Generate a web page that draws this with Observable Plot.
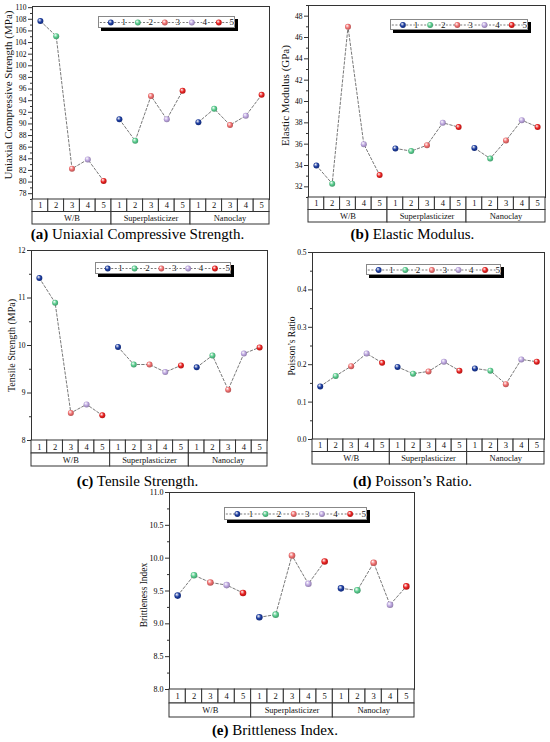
<!DOCTYPE html>
<html><head><meta charset="utf-8">
<script src="https://cdn.jsdelivr.net/npm/d3@7"></script>
<script src="https://cdn.jsdelivr.net/npm/@observablehq/plot@0.6"></script>
<style>
body{margin:0;background:#fff}
#root{position:relative;width:550px;height:742px;overflow:hidden;font-family:"Liberation Serif",serif;background:#fff}
#root > svg{position:absolute;overflow:visible;background:transparent}
#root svg, #root svg text{font-family:"Liberation Serif","Times New Roman",serif !important}
.cap{position:absolute;text-align:center;font-size:15px;line-height:18px;color:#000;white-space:nowrap}
.leg{position:absolute;background:#fff;border:1px solid #888;box-shadow:3px 3px 0 #000;box-sizing:border-box}
.leg svg{display:block;overflow:visible}
</style></head><body><div id="root"></div>
<script>
// ---------- data ----------
const groups = ["W/B", "Superplasticizer", "Nanoclay"];
const levels = ["1", "2", "3", "4", "5"];
const levelColors = ["#1b3b9e", "#57cb8c", "#ef6d6d", "#bba4de", "#e8201f"];

const ucsWB = [107.7, 105.1, 82.3, 83.9, 80.2];
const ucsSP = [90.8, 87.1, 94.8, 90.8, 95.7];
const ucsNC = [90.3, 92.6, 89.8, 91.4, 95.0];
const ucsTicks = [78, 80, 82, 84, 86, 88, 90, 92, 94, 96, 98, 100, 102, 104, 106, 108, 110];
const ucsMinor = [77, 79, 81, 83, 85, 87, 89, 91, 93, 95, 97, 99, 101, 103, 105, 107, 109];

const emWB = [34.0, 32.3, 47.0, 36.0, 33.1];
const emSP = [35.6, 35.35, 35.9, 38.0, 37.6];
const emNC = [35.65, 34.65, 36.35, 38.25, 37.6];
const emTicks = [32, 34, 36, 38, 40, 42, 44, 46, 48];
const emMinor = [31, 33, 35, 37, 39, 41, 43, 45, 47, 49];

const tsWB = [11.42, 10.90, 8.58, 8.76, 8.53];
const tsSP = [9.97, 9.60, 9.60, 9.44, 9.58];
const tsNC = [9.54, 9.79, 9.07, 9.83, 9.96];
const tsTicks = [8, 9, 10, 11, 12];
const tsMinor = [8.5, 9.5, 10.5, 11.5];

const prWB = [0.142, 0.170, 0.196, 0.230, 0.205];
const prSP = [0.194, 0.176, 0.182, 0.208, 0.184];
const prNC = [0.190, 0.184, 0.148, 0.214, 0.208];
const prTicks = [0, 0.1, 0.2, 0.3, 0.4, 0.5];
const prMinor = [0.05, 0.15, 0.25, 0.35, 0.45];

const biWB = [9.43, 9.74, 9.63, 9.59, 9.47];
const biSP = [9.10, 9.14, 10.04, 9.61, 9.95];
const biNC = [9.54, 9.51, 9.93, 9.29, 9.57];
const biTicks = [8.0, 8.5, 9.0, 9.5, 10.0, 10.5, 11.0];
const biMinor = [8.25, 8.75, 9.25, 9.75, 10.25, 10.75];

// ---------- panel layout ----------
const panels = [
  {id: "a", wb: ucsWB, sp: ucsSP, nc: ucsNC, ticks: ucsTicks, minor: ucsMinor, domain: [77, 110.2], fmt: d3.format("d"),
   title: "Uniaxial Compressive Strength (MPa)", titleFont: 11, titleDx: -24, titleDy: -8, tickFont: 7.5,
   svgLeft: 0, svgTop: 0, left: 32, right: 269, top: 6, bottom: 199, tableH: 25, r: 3,
   legend: [98, 16, 137, 12], capX: 137.5, capY: 225, capBold: "(a)", cap: " Uniaxial Compressive Strength."},
  {id: "b", wb: emWB, sp: emSP, nc: emNC, ticks: emTicks, minor: emMinor, domain: [31, 49], fmt: d3.format("d"),
   title: "Elastic Modulus (GPa)", titleFont: 11, titleDx: -23, titleDy: -6, tickFont: 7.5,
   svgLeft: 275, svgTop: 0, left: 308, right: 545, top: 5, bottom: 197, tableH: 25, r: 3,
   legend: [390, 19, 138, 11], capX: 412.5, capY: 225, capBold: "(b)", cap: " Elastic Modulus."},
  {id: "c", wb: tsWB, sp: tsSP, nc: tsNC, ticks: tsTicks, minor: tsMinor, domain: [8, 12], fmt: d3.format("d"),
   title: "Tensile Strength (MPa)", titleFont: 10, titleDx: -20, titleDy: 0, tickFont: 7.5,
   svgLeft: 0, svgTop: 240, left: 31, right: 267, top: 250, bottom: 440, tableH: 26, r: 3,
   legend: [95, 262, 136, 12], capX: 137.5, capY: 472, capBold: "(c)", cap: " Tensile Strength."},
  {id: "d", wb: prWB, sp: prSP, nc: prNC, ticks: prTicks, minor: prMinor, domain: [0, 0.5], fmt: d3.format(".1f"),
   title: "Poisson\u2019s Ratio", titleFont: 9.5, titleDx: -21, titleDy: 0, tickFont: 7.5,
   svgLeft: 275, svgTop: 240, left: 312, right: 544, top: 252, bottom: 439, tableH: 25, r: 3,
   legend: [366, 264, 135, 11], capX: 412.5, capY: 472, capBold: "(d)", cap: " Poisson\u2019s Ratio."},
  {id: "e", wb: biWB, sp: biSP, nc: biNC, ticks: biTicks, minor: biMinor, domain: [8, 11], fmt: d3.format(".1f"),
   title: "Brittleness Index", titleFont: 9.5, titleDx: -26, titleDy: 4, tickFont: 8,
   svgLeft: 100, svgTop: 480, left: 169, right: 414, top: 492, bottom: 689, tableH: 28, r: 3.3,
   legend: [224, 507, 143, 13], capX: 275, capY: 721, capBold: "(e)", cap: " Brittleness Index."}
];

const root = document.getElementById("root");
const font = "Liberation Serif";

function addGradients(svg, prefix) {
  const ns = "http://www.w3.org/2000/svg";
  const defs = document.createElementNS(ns, "defs");
  levelColors.forEach((c, i) => {
    const g = document.createElementNS(ns, "radialGradient");
    g.setAttribute("id", prefix + i);
    g.setAttribute("cx", "0.45"); g.setAttribute("cy", "0.45"); g.setAttribute("r", "0.6");
    g.setAttribute("fx", "0.35"); g.setAttribute("fy", "0.3");
    [[0, "#ffffff"], [0.55, c], [1, d3.color(c).darker(0.9).formatHex()]].forEach(([o, col]) => {
      const s = document.createElementNS(ns, "stop");
      s.setAttribute("offset", o); s.setAttribute("stop-color", col);
      g.appendChild(s);
    });
    defs.appendChild(g);
  });
  svg.insertBefore(defs, svg.firstChild);
}

function place(el, x, y) {
  el.style.position = "absolute";
  el.style.left = x + "px";
  el.style.top = y + "px";
  root.appendChild(el);
}

for (const p of panels) {
  const data = [p.wb, p.sp, p.nc].flatMap((vals, g) =>
    vals.map((v, i) => ({group: groups[g], level: i, value: v, pos: g * 5 + i + 0.5})));
  const fw = p.right - p.left, fh = p.bottom - p.top;
  const ML = p.left - p.svgLeft, MT = p.top - p.svgTop;

  const chart = Plot.plot({
    width: ML + fw, height: MT + fh,
    marginLeft: ML, marginTop: MT, marginRight: 0, marginBottom: 0,
    style: {background: "transparent", overflow: "visible"},
    x: {domain: [0, 15], axis: null},
    y: {domain: p.domain, axis: null, label: null},
    marks: [
      Plot.axisY({ticks: p.ticks, tickSize: 4, tickPadding: 2, tickFormat: p.fmt, label: null, fontSize: p.tickFont, fontFamily: font, stroke: "#333"}),
      Plot.axisY({ticks: p.minor, tickSize: 2, tickFormat: () => "", label: null, stroke: "#333"}),
      Plot.text([p.title], {text: d => d, frameAnchor: "left", textAnchor: "middle", rotate: -90, dx: p.titleDx, dy: p.titleDy, fontSize: p.titleFont, fontFamily: font, fill: "#111"}),
      Plot.line(data, {x: "pos", y: "value", z: "group", stroke: "#555", strokeWidth: 0.8, strokeDasharray: "2.5,2"}),
      ...levels.map((l, i) => Plot.dot(data.filter(d => d.level === i),
        {x: "pos", y: "value", r: p.r, fill: `url(#${p.id}g${i})`, stroke: "none"})),
      Plot.frame({stroke: "#333", strokeWidth: 1})
    ]
  });
  addGradients(chart, p.id + "g");
  place(chart, p.svgLeft, p.svgTop);

  const cells = groups.flatMap((g, gi) => levels.map((l, i) => ({x1: gi * 5 + i, x2: gi * 5 + i + 1, label: l})));
  const spans = groups.map((g, gi) => ({x1: gi * 5, x2: gi * 5 + 5, label: g}));
  const table = Plot.plot({
    width: fw, height: p.tableH, margin: 0,
    style: {background: "transparent", overflow: "visible"},
    x: {domain: [0, 15], axis: null},
    y: {domain: [2, 0], axis: null},
    marks: [
      Plot.rect(cells, {x1: "x1", x2: "x2", y1: 0, y2: 1, stroke: "#333", fill: "white"}),
      Plot.rect(spans, {x1: "x1", x2: "x2", y1: 1, y2: 2, stroke: "#333", fill: "white"}),
      Plot.text(cells, {x: d => (d.x1 + d.x2) / 2, y: 0.5, text: "label", fontSize: 8.5, fontFamily: font, fill: "#111"}),
      Plot.text(spans, {x: d => (d.x1 + d.x2) / 2, y: 1.5, text: "label", fontSize: 8.5, fontFamily: font, fill: "#111"})
    ]
  });
  place(table, p.left, p.bottom);

  const [lx, ly, lw, lh] = p.legend;
  const box = document.createElement("div");
  box.className = "leg";
  box.style.width = lw + "px"; box.style.height = lh + "px";
  const items = levels.map((l, i) => ({i, label: l}));
  const leg = Plot.plot({
    width: lw - 2, height: lh - 2, margin: 0,
    style: {background: "transparent", overflow: "visible"},
    x: {domain: [0, 5], axis: null},
    y: {domain: [0, 1], axis: null},
    marks: [
      Plot.ruleY([0.5], {x1: 0.03, x2: 4.97, stroke: "#555", strokeWidth: 0.8, strokeDasharray: "2,1.6"}),
      Plot.text(items, {x: d => d.i + 0.9, y: 0.5, text: "label", fontSize: 9, fontFamily: font, fill: "#111", stroke: "white", strokeWidth: 1.5}),
      ...items.map(d => Plot.dot([d], {x: e => e.i + 0.42, y: 0.5, r: 2.9, fill: `url(#${p.id}L${d.i})`, stroke: "none"}))
    ]
  });
  addGradients(leg, p.id + "L");
  box.appendChild(leg);
  place(box, lx, ly);

  const cap = document.createElement("div");
  cap.className = "cap";
  cap.style.width = "300px";
  const b = document.createElement("b");
  b.textContent = p.capBold;
  cap.appendChild(b);
  cap.appendChild(document.createTextNode(p.cap));
  place(cap, p.capX - 150, p.capY);
}
</script></body></html>
